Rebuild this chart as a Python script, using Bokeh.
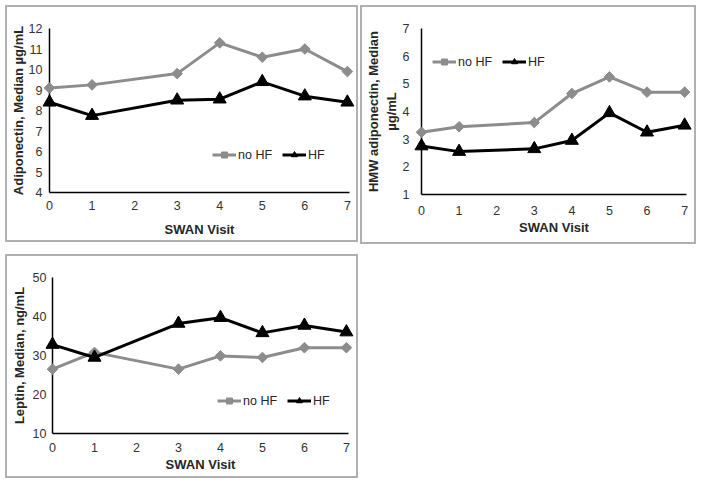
from bokeh.plotting import figure
from bokeh.models import Range1d, FixedTicker, Legend, LegendItem
from bokeh.layouts import column, row
from bokeh.embed import file_html
from bokeh.resources import INLINE
import math

# ---- data ----
visits = [0, 1, 3, 4, 5, 6, 7]
x_ticks = [0, 1, 2, 3, 4, 5, 6, 7]

adipo_nohf = [9.1, 9.25, 9.8, 11.3, 10.6, 11.0, 9.9]
adipo_hf = [8.4, 7.75, 8.5, 8.55, 9.4, 8.7, 8.4]
adipo_ticks = [4, 5, 6, 7, 8, 9, 10, 11, 12]

hmw_nohf = [3.25, 3.45, 3.6, 4.65, 5.25, 4.7, 4.7]
hmw_hf = [2.75, 2.55, 2.65, 2.95, 3.95, 3.25, 3.5]
hmw_ticks = [1, 2, 3, 4, 5, 6, 7]

leptin_nohf = [26.5, 30.8, 26.5, 29.9, 29.5, 32.0, 32.0]
leptin_hf = [32.8, 29.5, 38.2, 39.7, 35.8, 37.7, 36.0]
leptin_ticks = [10, 20, 30, 40, 50]

series_labels = ["no HF", "HF"]
x_title = "SWAN Visit"

FONT = "Liberation Sans"
GRAY = "#8c8c8c"
BLACK = "#000000"


def make_panel(width, height, bl, br, bt, bb, yticks, ylabel, nohf, hf,
               leg_loc, y_standoff, ytitle_standoff, x_standoff, xtitle_standoff):
    p = figure(width=width, height=height, output_backend="svg",
               toolbar_location=None, sizing_mode="fixed",
               x_range=Range1d(0, 7.05),
               y_range=Range1d(yticks[0], yticks[-1]),
               min_border_left=bl, min_border_right=br,
               min_border_top=bt, min_border_bottom=bb)
    p.styles = {"outline": "2px solid #b0b0b0"}
    p.outline_line_color = None
    p.grid.visible = False
    p.background_fill_color = "white"
    p.border_fill_color = "white"

    for ax in (p.xaxis[0], p.yaxis[0]):
        ax.major_tick_line_color = None
        ax.minor_tick_line_color = None
        ax.major_tick_out = 0
        ax.major_tick_in = 0
        ax.minor_tick_out = 0
        ax.minor_tick_in = 0
        ax.axis_line_color = "#000000"
        ax.axis_line_width = 1.5
        ax.major_label_text_font = FONT
        ax.major_label_text_font_size = "12.5px"
        ax.major_label_text_color = "#333333"
        ax.axis_label_text_font = FONT
        ax.axis_label_text_font_size = "13px"
        ax.axis_label_text_font_style = "bold"
        ax.axis_label_text_color = "#262626"

    p.xaxis.ticker = FixedTicker(ticks=x_ticks)
    p.yaxis.ticker = FixedTicker(ticks=yticks)
    p.xaxis.axis_label = x_title
    p.yaxis.axis_label = ylabel
    p.xaxis.major_label_standoff = x_standoff
    p.xaxis.axis_label_standoff = xtitle_standoff
    p.yaxis.major_label_standoff = y_standoff
    p.yaxis.axis_label_standoff = ytitle_standoff

    l1 = p.line(visits, nohf, line_color=GRAY, line_width=3, level="overlay")
    s1 = p.scatter(visits, nohf, marker="square", size=7.5, angle=math.pi / 4,
                   fill_color=GRAY, line_color=GRAY, level="overlay")
    l2 = p.line(visits, hf, line_color=BLACK, line_width=3, level="overlay")
    s2 = p.scatter(visits, hf, marker="triangle", size=13,
                   fill_color=BLACK, line_color=BLACK, level="overlay")

    legend = Legend(items=[LegendItem(label=series_labels[0], renderers=[l1, s1]),
                           LegendItem(label=series_labels[1], renderers=[l2, s2])],
                    orientation="horizontal", location=leg_loc,
                    border_line_color=None, background_fill_alpha=0,
                    padding=0, margin=0, spacing=10,
                    glyph_width=24, glyph_height=15, label_standoff=2,
                    label_text_font=FONT, label_text_font_size="12.5px",
                    label_text_color="#262626")
    p.add_layout(legend)
    return p


# element origins: p1 (7, 7), p2 (362, 7), p3 (7, 256)
p1 = make_panel(349, 233, 42, 7, 21, 48, adipo_ticks,
                "Adiponectin, Median \u00b5g/mL", adipo_nohf, adipo_hf,
                (163, 30), 7, 0, 8, 9)
p2 = make_panel(332, 235, 54, 8, 20, 46, hmw_ticks,
                "HMW adiponectin, Median\n\u00b5g/mL", hmw_nohf, hmw_hf,
                (11, 125), 12, 1, 11, 2)
p3 = make_panel(349, 220, 45, 8, 21, 43, leptin_ticks,
                "Leptin, Median, ng/mL", leptin_nohf, leptin_hf,
                (165, 25), 6, 3, 9, 2)

layout = column(row(p1, p2, spacing=6), p3, spacing=14, margin=(7, 0, 0, 7))

open("out.html", "w").write(file_html(layout, INLINE))
